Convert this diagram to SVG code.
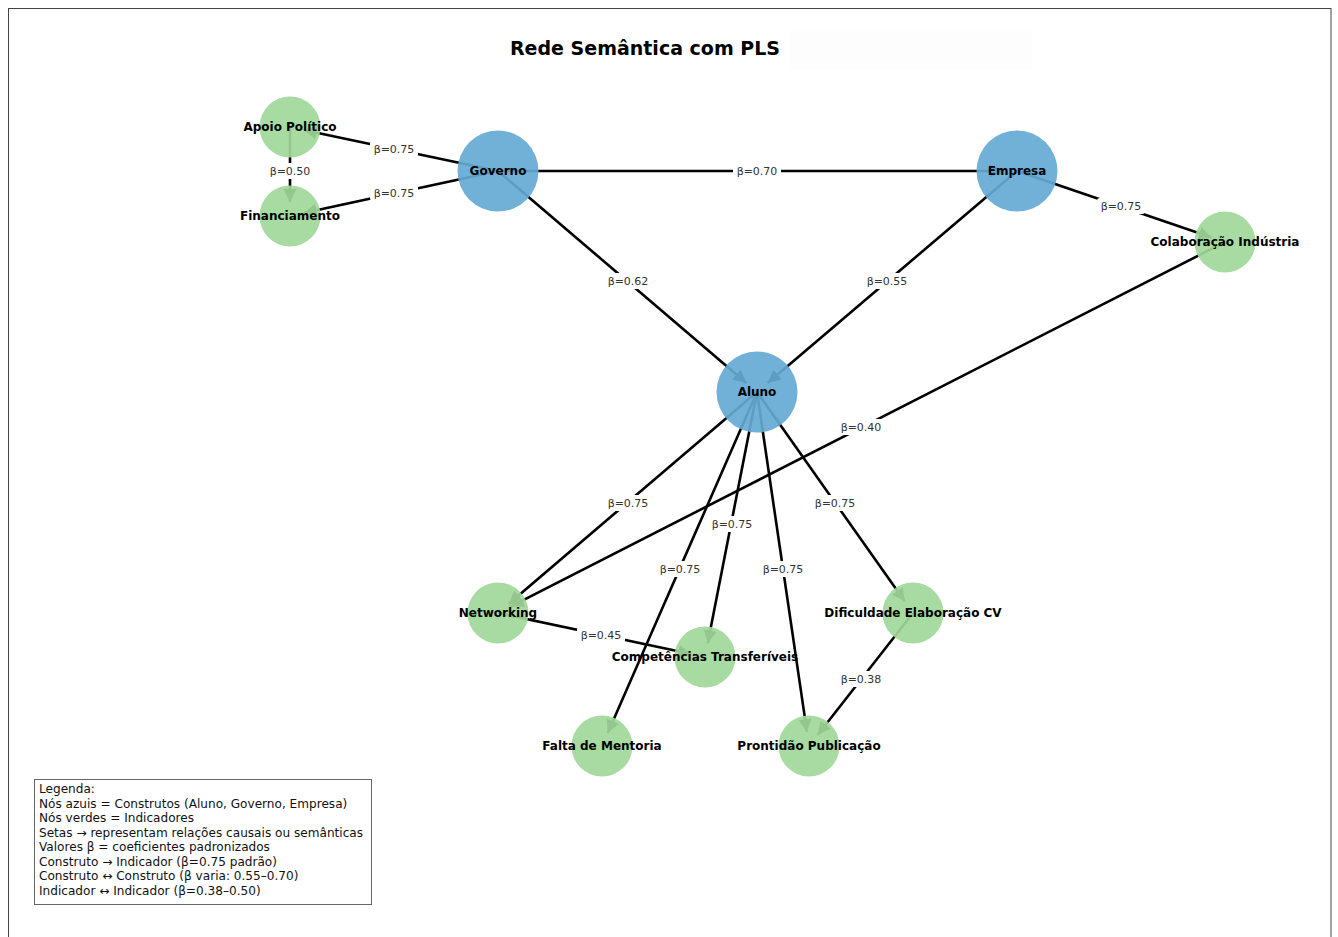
<svg xmlns="http://www.w3.org/2000/svg" width="1338" height="937" viewBox="0 0 1338 937">
<style>
.edge{stroke:#000;stroke-width:2.6;fill:none;marker-end:url(#ah)}
.blue{fill:#65aad4;fill-opacity:0.92}
.green{fill:#9fd899;fill-opacity:0.92}
.nl{font-family:"DejaVu Sans",sans-serif;font-weight:bold;font-size:12px;fill:#000;text-anchor:middle;dominant-baseline:central}
.el{font-family:"DejaVu Sans",sans-serif;font-size:11px;fill:#333;text-anchor:middle;dominant-baseline:central}
.lb{fill:#fff;stroke:none}
.leg{font-family:"DejaVu Sans",sans-serif;font-size:12.1px;fill:#111}
</style>
<defs>
<marker id="ah" markerUnits="userSpaceOnUse" viewBox="0 0 13 13" refX="13" refY="6.5" markerWidth="13" markerHeight="13" orient="auto">
<path d="M0,0 L13,6.5 L0,13 z" fill="#000"/>
</marker>
</defs>
<rect x="0" y="0" width="1338" height="937" fill="#fff"/>
<rect x="8.5" y="8.5" width="1322.5" height="940" fill="#fff" stroke="#444" stroke-width="1"/>
<rect x="790" y="31" width="242" height="39" fill="#fdfdfd"/>
<text x="645" y="55" font-family="DejaVu Sans, sans-serif" font-weight="bold" font-size="19" text-anchor="middle" fill="#000">Rede Semântica com PLS</text>

<g id="connectors">
<line class="edge" x1="498" y1="171" x2="303.7" y2="129.9"/>
<line class="edge" x1="498" y1="171" x2="303.7" y2="213.0"/>
<line class="edge" x1="290" y1="127" x2="290" y2="202"/>
<line class="edge" x1="498" y1="171" x2="1003" y2="171"/>
<line class="edge" x1="498" y1="171" x2="746.35" y2="382.9"/>
<line class="edge" x1="1017" y1="171" x2="767.7" y2="382.9"/>
<line class="edge" x1="1017" y1="171" x2="1211.75" y2="237.5"/>
<line class="edge" x1="1225" y1="242" x2="510.5" y2="606.6"/>
<line class="edge" x1="757" y1="392" x2="508.65" y2="603.9"/>
<line class="edge" x1="757" y1="392" x2="707.7" y2="643.3"/>
<line class="edge" x1="757" y1="392" x2="607.6" y2="733.2"/>
<line class="edge" x1="757" y1="392" x2="807.0" y2="732.1"/>
<line class="edge" x1="757" y1="392" x2="904.9" y2="601.6"/>
<line class="edge" x1="498" y1="613" x2="691.3" y2="654.1"/>
<line class="edge" x1="913" y1="613" x2="817.6" y2="735.0"/>
</g>

<g id="edge-labels">
<rect class="lb" x="370" y="141" width="48" height="16" rx="3"/><text class="el" x="394" y="149">β=0.75</text>
<rect class="lb" x="370" y="185" width="48" height="16" rx="3"/><text class="el" x="394" y="193">β=0.75</text>
<rect class="lb" x="266" y="163" width="48" height="16" rx="3"/><text class="el" x="290" y="171">β=0.50</text>
<rect class="lb" x="733" y="163" width="48" height="16" rx="3"/><text class="el" x="757" y="171">β=0.70</text>
<rect class="lb" x="604" y="273" width="48" height="16" rx="3"/><text class="el" x="628" y="281">β=0.62</text>
<rect class="lb" x="863" y="273" width="48" height="16" rx="3"/><text class="el" x="887" y="281">β=0.55</text>
<rect class="lb" x="1097" y="198" width="48" height="16" rx="3"/><text class="el" x="1121" y="206">β=0.75</text>
<rect class="lb" x="837" y="419" width="48" height="16" rx="3"/><text class="el" x="861" y="427">β=0.40</text>
<rect class="lb" x="604" y="495" width="48" height="16" rx="3"/><text class="el" x="628" y="503">β=0.75</text>
<rect class="lb" x="708" y="516" width="48" height="16" rx="3"/><text class="el" x="732" y="524">β=0.75</text>
<rect class="lb" x="656" y="561" width="48" height="16" rx="3"/><text class="el" x="680" y="569">β=0.75</text>
<rect class="lb" x="759" y="561" width="48" height="16" rx="3"/><text class="el" x="783" y="569">β=0.75</text>
<rect class="lb" x="811" y="495" width="48" height="16" rx="3"/><text class="el" x="835" y="503">β=0.75</text>
<rect class="lb" x="577" y="627" width="48" height="16" rx="3"/><text class="el" x="601" y="635">β=0.45</text>
<rect class="lb" x="837" y="671" width="48" height="16" rx="3"/><text class="el" x="861" y="679">β=0.38</text>
</g>

<g id="node-governo"><circle class="blue" cx="498" cy="171" r="40.5"/><text class="nl" x="498" y="171">Governo</text></g>
<g id="node-empresa"><circle class="blue" cx="1017" cy="171" r="40.5"/><text class="nl" x="1017" y="171">Empresa</text></g>
<g id="node-aluno"><circle class="blue" cx="757" cy="392" r="40.5"/><text class="nl" x="757" y="392">Aluno</text></g>
<g id="node-apoio"><circle class="green" cx="290" cy="127" r="30.5"/><text class="nl" x="290" y="127">Apoio Político</text></g>
<g id="node-financiamento"><circle class="green" cx="290" cy="216" r="30.5"/><text class="nl" x="290" y="216">Financiamento</text></g>
<g id="node-colaboracao"><circle class="green" cx="1225" cy="242" r="30.5"/><text class="nl" x="1225" y="242">Colaboração Indústria</text></g>
<g id="node-networking"><circle class="green" cx="498" cy="613" r="30.5"/><text class="nl" x="498" y="613">Networking</text></g>
<g id="node-competencias"><circle class="green" cx="705" cy="657" r="30.5"/><text class="nl" x="705" y="657">Competências Transferíveis</text></g>
<g id="node-dificuldade"><circle class="green" cx="913" cy="613" r="30.5"/><text class="nl" x="913" y="613">Dificuldade Elaboração CV</text></g>
<g id="node-falta"><circle class="green" cx="602" cy="746" r="30.5"/><text class="nl" x="602" y="746">Falta de Mentoria</text></g>
<g id="node-prontidao"><circle class="green" cx="809" cy="746" r="30.5"/><text class="nl" x="809" y="746">Prontidão Publicação</text></g>

<g id="legend">
<rect x="34.5" y="779.5" width="337" height="125" fill="#fff" stroke="#666" stroke-width="1"/>
<text class="leg" x="39" y="793">Legenda:</text>
<text class="leg" x="39" y="807.5">Nós azuis = Construtos (Aluno, Governo, Empresa)</text>
<text class="leg" x="39" y="822">Nós verdes = Indicadores</text>
<text class="leg" x="39" y="836.5">Setas → representam relações causais ou semânticas</text>
<text class="leg" x="39" y="851">Valores β = coeficientes padronizados</text>
<text class="leg" x="39" y="865.5">Construto → Indicador (β=0.75 padrão)</text>
<text class="leg" x="39" y="880">Construto ↔ Construto (β varia: 0.55–0.70)</text>
<text class="leg" x="39" y="894.5">Indicador ↔ Indicador (β=0.38–0.50)</text>
</g>
</svg>
